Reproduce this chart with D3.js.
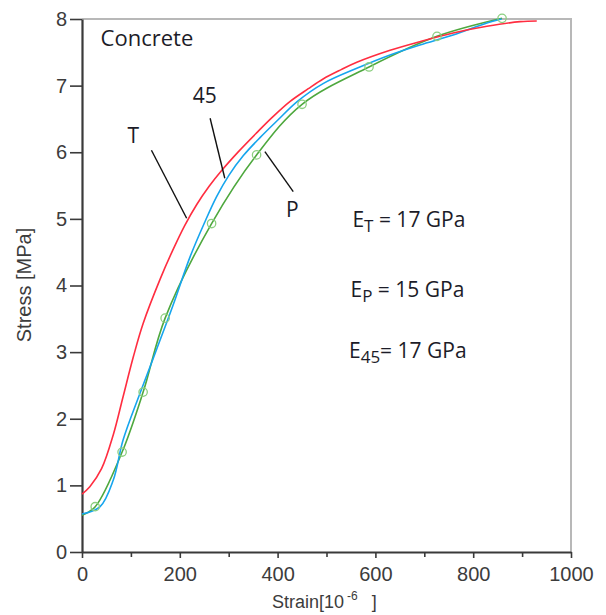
<!DOCTYPE html>
<html>
<head>
<meta charset="utf-8">
<script src="https://cdn.jsdelivr.net/npm/d3@7"></script>
<style>
  body { margin: 0; background: #fff; }
  svg { display: block; }
</style>
</head>
<body>
<svg id="chart" width="606" height="615"></svg>
<script>
// Stress–strain curves for concrete, three loading directions.
// Strain in 10^-6, stress in MPa.

// T direction (red)
const strainT = [0, 16, 40, 64, 84, 105, 125, 160, 185, 210, 235, 260, 286, 320, 357, 390, 425, 462, 493, 530, 562, 630, 691, 759, 828, 896, 930];
const stressT = [0.87, 0.98, 1.25, 1.76, 2.33, 2.93, 3.43, 4.10, 4.52, 4.90, 5.22, 5.49, 5.73, 6.01, 6.29, 6.53, 6.76, 6.95, 7.10, 7.24, 7.35, 7.53, 7.66, 7.79, 7.89, 7.96, 7.97];

// 45° direction (blue)
const strain45 = [0, 37, 64, 84, 119, 153, 186, 221, 251, 275, 300, 330, 364, 400, 440, 493, 562, 630, 691, 759, 828, 858];
const stress45 = [0.57, 0.68, 1.08, 1.68, 2.39, 3.05, 3.70, 4.43, 4.95, 5.33, 5.65, 5.95, 6.22, 6.48, 6.76, 7.03, 7.26, 7.46, 7.61, 7.76, 7.94, 8.0];

// P direction (green): curve through the measured points
const strainP = [0, 27, 82, 125, 170, 265, 357, 450, 587, 726, 859];
const stressP = [0.55, 0.68, 1.50, 2.40, 3.51, 4.93, 5.96, 6.72, 7.28, 7.74, 8.01];
const markerStrainP = [27, 82, 125, 170, 265, 357, 450, 587, 726, 859];
const markerStressP = [0.68, 1.50, 2.40, 3.51, 4.93, 5.96, 6.72, 7.28, 7.74, 8.01];

// Axis ticks
const xTicks = [0, 200, 400, 600, 800, 1000];
const xMinorTicks = [100, 300, 500, 700, 900];
const yTicks = [0, 1, 2, 3, 4, 5, 6, 7, 8];

// Curve labels and their leader lines (data units)
const curveLabels = ["T", "45", "P"];
const curveLabelAt = [[105, 6.14], [251, 6.74], [430, 5.03]];
const leaderFrom = [[142, 6.03], [262, 6.51], [374, 6.01]];
const leaderTo = [[214, 5.01], [292, 5.61], [432, 5.41]];

// Modulus annotations
const moduli = [
  { sub: "T", val: "17 GPa", gap: true },
  { sub: "P", val: "15 GPa", gap: true },
  { sub: "45", val: "17 GPa", gap: false }
];
const modulusAt = [[553, 4.88], [549, 3.83], [546, 2.91]];

const svg = d3.select("#chart");
const x = d3.scaleLinear().domain([0, 1000]).range([82, 571]);
const y = d3.scaleLinear().domain([0, 8]).range([552, 19]);

const annFont = "'Open Sans', 'Noto Sans', sans-serif";
const axisFont = "'Liberation Sans', Arial, sans-serif";

// Frame (top and right)
svg.append("path")
  .attr("d", `M${x(0)},${y(8)}H${x(1000)}V${y(0)}`)
  .attr("fill", "none")
  .attr("stroke", "#b8b8b8")
  .attr("stroke-width", 2);

// Bottom axis: major ticks with labels, minor ticks without
svg.append("g")
  .attr("transform", `translate(0,${y(0)})`)
  .call(d3.axisBottom(x).tickValues(xTicks).tickSize(6).tickSizeOuter(0).tickPadding(9).tickFormat(d3.format("d")));
svg.append("g")
  .attr("transform", `translate(0,${y(0)})`)
  .call(d3.axisBottom(x).tickValues(xMinorTicks).tickSize(5).tickSizeOuter(0).tickFormat(""))
  .call(g => g.select(".domain").remove());

// Left axis
svg.append("g")
  .attr("transform", `translate(${x(0)},0)`)
  .call(d3.axisLeft(y).tickValues(yTicks).tickSize(12).tickSizeOuter(0).tickPadding(3).tickFormat(d3.format("d")));

svg.selectAll(".domain").attr("stroke", "#3a3a3a").attr("stroke-width", 2.2);
svg.selectAll(".tick line").attr("stroke", "#3a3a3a").attr("stroke-width", 1.6);
svg.selectAll(".tick text")
  .attr("font-family", axisFont)
  .attr("font-size", 20)
  .attr("fill", "#3c3c3c");

// Axis titles
svg.append("text")
  .attr("transform", `translate(31,285) rotate(-90)`)
  .attr("text-anchor", "middle")
  .attr("font-family", axisFont)
  .attr("font-size", 20)
  .attr("fill", "#3c3c3c")
  .text("Stress [MPa]");

const xt = svg.append("text")
  .attr("x", 272)
  .attr("y", 608)
  .attr("font-family", axisFont)
  .attr("font-size", 18)
  .attr("fill", "#3c3c3c");
xt.append("tspan").text("Strain[10");
xt.append("tspan").attr("dx", 3).attr("dy", -8).attr("font-size", 12).text("-6");
xt.append("tspan").attr("dx", 14).attr("dy", 8).text("]");

// Curves
const line = d3.line()
  .x(d => x(d[0]))
  .y(d => y(d[1]))
  .curve(d3.curveCatmullRom.alpha(0.5));

const series = [
  { xs: strainP, ys: stressP, color: "#4ea83e" },
  { xs: strain45, ys: stress45, color: "#16a5ee" },
  { xs: strainT, ys: stressT, color: "#ff2d40" }
];
series.forEach(s => {
  svg.append("path")
    .datum(s.xs.map((v, i) => [v, s.ys[i]]))
    .attr("d", line)
    .attr("fill", "none")
    .attr("stroke", s.color)
    .attr("stroke-width", 1.6);
});

// P measurement markers
svg.append("g")
  .selectAll("circle")
  .data(markerStrainP.map((v, i) => [v, markerStressP[i]]))
  .join("circle")
  .attr("cx", d => x(d[0]))
  .attr("cy", d => y(d[1]))
  .attr("r", 4.2)
  .attr("fill", "none")
  .attr("stroke", "#8ccf80")
  .attr("stroke-width", 1.3);

// Material label
svg.append("text")
  .attr("x", x(38))
  .attr("y", y(7.59))
  .attr("font-family", annFont)
  .attr("font-size", 22)
  .attr("fill", "#1c1c28")
  .text("Concrete");

// Curve labels with leader lines
curveLabels.forEach((lab, i) => {
  svg.append("line")
    .attr("x1", x(leaderFrom[i][0])).attr("y1", y(leaderFrom[i][1]))
    .attr("x2", x(leaderTo[i][0])).attr("y2", y(leaderTo[i][1]))
    .attr("stroke", "#111")
    .attr("stroke-width", 1.4);
  svg.append("text")
    .attr("x", x(curveLabelAt[i][0]))
    .attr("y", y(curveLabelAt[i][1]))
    .attr("text-anchor", "middle")
    .attr("font-family", annFont)
    .attr("font-size", 21)
    .attr("fill", "#1c1c28")
    .text(lab);
});

// Elastic moduli
moduli.forEach((m, i) => {
  const t = svg.append("text")
    .attr("x", x(modulusAt[i][0]))
    .attr("y", y(modulusAt[i][1]))
    .attr("font-family", annFont)
    .attr("font-size", 21)
    .attr("fill", "#1c1c28");
  t.append("tspan").text("E");
  t.append("tspan").attr("dy", 5).attr("font-size", 17).text(m.sub);
  t.append("tspan").attr("dy", -5).text((m.gap ? " = " : "= ") + m.val);
});
</script>
</body>
</html>
